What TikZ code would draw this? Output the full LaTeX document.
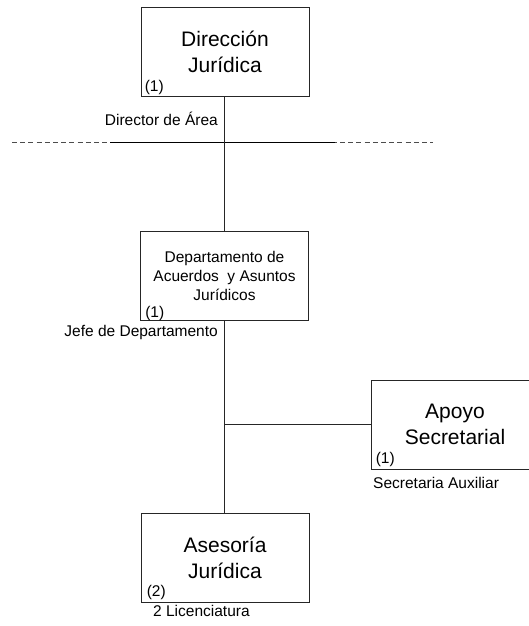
\documentclass[tikz,border=0pt]{standalone}
\usepackage{fontspec}
\setmainfont{Liberation Sans}
\usetikzlibrary{positioning}
\tikzset{
  unitbox/.style={draw=black!85, line width=0.8pt, minimum width=168pt, minimum height=89pt, inner sep=0pt, align=center},
  bigtxt/.style={font=\fontsize{21}{26}\selectfont},
  smalltxt/.style={font=\fontsize{15.5}{19}\selectfont},
  countlbl/.style={smalltxt, anchor=south west, inner sep=0pt},
  link/.style={draw=black!85, line width=0.8pt}
}

\begin{document}
\begin{tikzpicture}[x=1pt,y=-1pt]
		%%%%% START %%%%%
		\useasboundingbox (0,0) rectangle (528,626);
		
		\node[unitbox, bigtxt] (dir) at (225, 51.5) {Dirección\\Jurídica};
		\node[countlbl] (dirn) at ([xshift=4pt,yshift=1pt]dir.south west) {(1)};
		\node[smalltxt, anchor=east, inner sep=0pt] (dirlbl) at (218, 119) {Director de Área};
		
		\coordinate (dl) at (12, 142);
		\coordinate (dr) at (433, 142);
		\coordinate (sl) at (110, 142);
		\coordinate (sr) at (335, 142);
		\draw[black!70, line width=0.9pt, dash pattern=on 5pt off 3.2pt] (dl) -- (dr);
		\draw[black, line width=0.9pt] (sl) -- (sr);
		
		\node[unitbox, smalltxt] (dep) at (224.5, 275.5) {Departamento de\\Acuerdos~ y Asuntos\\Jurídicos};
		\node[countlbl] (depn) at ([xshift=5pt,yshift=-1pt]dep.south west) {(1)};
		\node[smalltxt, anchor=east, inner sep=0pt] (deplbl) at (218, 332) {Jefe de Departamento};
		
		\node[unitbox, bigtxt] (apo) at (455, 424.5) {Apoyo\\Secretarial};
		\node[countlbl] (apon) at ([xshift=5pt,yshift=2pt]apo.south west) {(1)};
		\node[smalltxt, anchor=west, inner sep=0pt] (apolbl) at (373, 483) {Secretaria Auxiliar};
		
		\node[unitbox, bigtxt] (ase) at (225, 558) {Asesoría\\Jurídica};
		\node[countlbl] (asen) at ([xshift=6pt,yshift=3pt]ase.south west) {(2)};
		\node[smalltxt, anchor=west, inner sep=0pt] (aselbl) at (153, 611) {2 Licenciatura};
		
		\draw[link] (dir.south -| dep.north) -- (dep.north);
		\draw[link] (dep.south) -- (dep.south |- ase.north);
		\draw[link, line width=1.2pt] (apo.west) -- (apo.west -| dep.south);
		
		%%%%% END %%%%%
	\end{tikzpicture}
\end{document}
